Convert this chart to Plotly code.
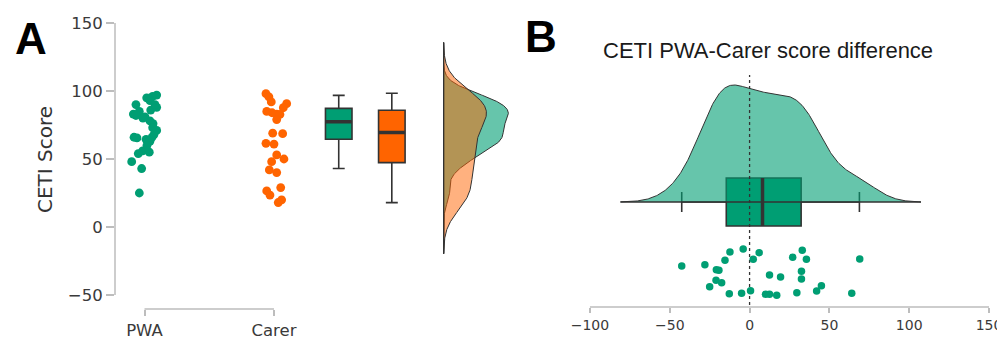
import numpy as np
import plotly.graph_objects as go

# ---------------- data ----------------
groups = ["PWA", "Carer"]
pwa_scores = [97, 96, 95, 93, 90, 88, 86, 85, 83, 81, 78, 76, 73, 71, 66, 65.5, 64.5,
              63, 66, 56, 55, 54, 48, 43, 25, 80, 90, 60, 82, 68]
pwa_jitter = [0.094, 0.063, 0.017, 0.042, -0.066, 0.094, 0.048, -0.040, -0.086, 0.004,
              0.042, 0.066, 0.063, 0.094, -0.081, -0.058, 0.012, 0.042, 0.058, -0.014,
              0.037, -0.048, -0.099, -0.022, -0.040, -0.012, 0.081, 0.019, -0.066, 0.073]
carer_scores = [98, 95.6, 92, 90.7, 87.7, 85, 83, 84, 82.8, 79, 69, 68.6, 61.5, 61, 53,
                50, 48, 42, 40, 29, 26.5, 23.5, 20, 18]
carer_jitter = [-0.062, -0.039, -0.021, 0.098, 0.072, -0.056, 0.021, -0.015, 0.046, 0.021,
                -0.010, 0.067, -0.062, 0.0, 0.021, 0.077, -0.018, -0.036, 0.021, 0.052,
                -0.056, -0.031, 0.059, 0.033]

box_q1 = [64.5, 47.3]
box_median = [77.4, 69.4]
box_q3 = [87.2, 85.8]
box_lower = [43.0, 17.9]
box_upper = [96.8, 98.3]

diff_scores = [-42.5, -28, -12.3, -4, 6, 2.3, -15.4, -20.8, -19.2, -21, -17.5, -25, -12.7,
               -5, 0.6, 10, 12.5, 17, 12.5, 19.4, 27, 33, 35.6, 32.5, 32.5, 29.6, 42, 45,
               64, 69]
diff_jitter = [6, 7.3, 20, 23, 19.3, 12.7, 11.7, 2.3, 1.7, -8.3, -10.7, -14.7, -21.7,
               -21.3, -18.7, -22.3, -22.3, -23.3, -3, -5, 14.7, 21.7, 12.7, 0.7, -7,
               -20.7, -19, -13.7, -21.3, 13]
diff_q1, diff_median, diff_q3 = -14.6, 8.1, 32.3
diff_lower, diff_upper = -42.5, 68.8

y_ticks_a = [-50, 0, 50, 100, 150]
x_ticks_b = [-100, -50, 0, 50, 100, 150]

# ---------------- styles ----------------
GREEN = "#009E73"
ORANGE = "#FF6400"
GREEN_FILL = "rgba(0,158,115,0.6)"
ORANGE_FILL = "rgba(255,100,0,0.5)"
DARK = "#333333"
AXIS = "#BDBDBD"
TICKFONT = dict(family="DejaVu Sans", size=16.5, color="#3a3a3a")

# page body has an 8px margin: figure drawn at (8, 8) in the window
OFF = 8
W, H = 1005 - OFF, 340 - OFF


def px(xr):   # window x pixel -> paper x
    return (xr - OFF) / W


def py(yr):   # window y pixel -> paper y
    return (H - (yr - OFF)) / H


def kde(values, grid, bw):
    v = np.asarray(values, float)[:, None]
    z = (grid[None, :] - v) / bw
    return np.exp(-0.5 * z ** 2).sum(0) / (len(v) * bw * np.sqrt(2 * np.pi))


def nrd0(values):
    v = np.asarray(values, float)
    iqr = np.subtract(*np.percentile(v, [75, 25]))
    return 0.9 * min(v.std(ddof=1), iqr / 1.34) * len(v) ** -0.2


fig = go.Figure()

# ---------------- panel A ----------------
pos = {"PWA": 1.0, "Carer": 2.0}
box_pos = [2.50, 2.91]
dens_base = 3.31

for name, sc, jit, col in [("PWA", pwa_scores, pwa_jitter, GREEN),
                           ("Carer", carer_scores, carer_jitter, ORANGE)]:
    fig.add_trace(go.Scatter(x=[pos[name] + j for j in jit], y=sc, mode="markers",
                             marker=dict(color=col, size=8.8), xaxis="x", yaxis="y",
                             showlegend=False, hoverinfo="skip"))

for i, col in enumerate([GREEN, ORANGE]):
    fig.add_trace(go.Box(x=[box_pos[i]], q1=[box_q1[i]], median=[box_median[i]],
                         q3=[box_q3[i]], lowerfence=[box_lower[i]], upperfence=[box_upper[i]],
                         width=0.205, whiskerwidth=0.45, fillcolor=col,
                         line=dict(color=DARK, width=1.6), boxpoints=False,
                         xaxis="x", yaxis="y", showlegend=False, hoverinfo="skip"))
    fig.add_trace(go.Scatter(x=[box_pos[i] - 0.1, box_pos[i] + 0.1],
                             y=[box_median[i], box_median[i]], mode="lines",
                             line=dict(color=DARK, width=3.5), xaxis="x", yaxis="y",
                             showlegend=False, hoverinfo="skip"))

bw_p, bw_c = nrd0(pwa_scores), nrd0(carer_scores)
bwm = max(bw_p, bw_c)
allv = pwa_scores + carer_scores
grid_a = np.linspace(min(allv) - 3 * bwm, max(allv) + 3 * bwm, 400)
d_p = kde(pwa_scores, grid_a, bw_p)
d_c = kde(carer_scores, grid_a, bw_c)
scale_a = 0.50 / max(d_p.max(), d_c.max())
for d, fillc in [(d_p, GREEN_FILL), (d_c, ORANGE_FILL)]:
    xs = np.concatenate([dens_base + scale_a * d, [dens_base, dens_base]])
    ys = np.concatenate([grid_a, [grid_a[-1], grid_a[0]]])
    fig.add_trace(go.Scatter(x=xs, y=ys, fill="toself", fillcolor=fillc, mode="lines",
                             line=dict(color=DARK, width=1), xaxis="x", yaxis="y",
                             showlegend=False, hoverinfo="skip"))
fig.add_trace(go.Scatter(x=[dens_base, dens_base], y=[grid_a[0], grid_a[-1]], mode="lines",
                         line=dict(color=DARK, width=1.2), xaxis="x", yaxis="y",
                         showlegend=False, hoverinfo="skip"))

# ---------------- panel B ----------------
row_base = 138
row_points = 68
bw_d = nrd0(diff_scores)
grid_b = np.linspace(min(diff_scores) - 3 * bw_d, max(diff_scores) + 3 * bw_d, 400)
d_b = kde(diff_scores, grid_b, bw_d)
scale_b = 117 / d_b.max()
fig.add_trace(go.Scatter(x=np.concatenate([grid_b, [grid_b[-1], grid_b[0]]]),
                         y=np.concatenate([row_base + scale_b * d_b, [row_base, row_base]]),
                         fill="toself", fillcolor=GREEN_FILL, mode="lines",
                         line=dict(color=DARK, width=1), xaxis="x2", yaxis="y2",
                         showlegend=False, hoverinfo="skip"))
fig.add_trace(go.Scatter(x=[grid_b[0], grid_b[-1]], y=[row_base, row_base], mode="lines",
                         line=dict(color=DARK, width=1.2), xaxis="x2", yaxis="y2",
                         showlegend=False, hoverinfo="skip"))
fig.add_trace(go.Box(y=[row_base], q1=[diff_q1], median=[diff_median], q3=[diff_q3],
                     lowerfence=[diff_lower], upperfence=[diff_upper], orientation="h",
                     width=48, whiskerwidth=0.42, fillcolor=GREEN,
                     line=dict(color=DARK, width=1.6), boxpoints=False,
                     xaxis="x2", yaxis="y2", showlegend=False, hoverinfo="skip"))
fig.add_trace(go.Scatter(x=[diff_median, diff_median], y=[row_base - 24, row_base + 24],
                         mode="lines", line=dict(color=DARK, width=3.5),
                         xaxis="x2", yaxis="y2", showlegend=False, hoverinfo="skip"))
fig.add_trace(go.Scatter(x=[0, 0], y=[35, 265], mode="lines",
                         line=dict(color=DARK, width=1.3, dash="3px,3px"),
                         xaxis="x2", yaxis="y2", showlegend=False, hoverinfo="skip"))
fig.add_trace(go.Scatter(x=diff_scores, y=[row_points + j for j in diff_jitter],
                         mode="markers", marker=dict(color=GREEN, size=7.5),
                         xaxis="x2", yaxis="y2", showlegend=False, hoverinfo="skip"))

# ---------------- axes & layout ----------------
xa_pos = py(309)
xb_pos = py(307)
ya_per_px = 200 / 272            # 150 at window y=23, -50 at y=295
ya_top = 150 + (23 - OFF) * ya_per_px
ya_bot = -50 - (340 - 295) * ya_per_px
fig.update_layout(
    width=W, height=H, margin=dict(l=0, r=0, t=0, b=0),
    paper_bgcolor="white", plot_bgcolor="rgba(0,0,0,0)",
    xaxis=dict(domain=[px(115), px(522.6)], range=[0.7722, 3.92], anchor="free",
               position=xa_pos, tickvals=[1, 2], ticktext=groups, showgrid=False,
               zeroline=False, showline=False, ticks="outside", ticklen=6, tickwidth=1.5,
               tickcolor=AXIS, tickfont=TICKFONT),
    yaxis=dict(domain=[0, 1], range=[ya_bot, ya_top], anchor="x", tickvals=y_ticks_a,
               showgrid=False, zeroline=False, showline=False, ticks="outside",
               ticklen=8, tickwidth=1.5, tickcolor=AXIS, tickfont=TICKFONT),
    xaxis2=dict(domain=[px(562.8), 1.0], range=[-117.0, 160.0], anchor="free",
                position=xb_pos, tickvals=x_ticks_b, showgrid=False, zeroline=False,
                showline=False, ticks="outside", ticklen=5, tickwidth=1.5, tickcolor=AXIS,
                tickfont=dict(family="DejaVu Sans", size=14, color="#3a3a3a")),
    yaxis2=dict(domain=[0, 1], range=[0, 340 - OFF], anchor="x2", visible=False),
)
fig.add_shape(type="line", xref="paper", yref="y", x0=px(115), x1=px(115),
              y0=min(y_ticks_a), y1=max(y_ticks_a), line=dict(color=AXIS, width=1.5))
fig.add_shape(type="line", xref="x", yref="paper", x0=pos["PWA"], x1=pos["Carer"],
              y0=xa_pos, y1=xa_pos, line=dict(color=AXIS, width=1.5))
fig.add_shape(type="line", xref="x2", yref="paper", x0=min(x_ticks_b), x1=max(x_ticks_b),
              y0=xb_pos, y1=xb_pos, line=dict(color=AXIS, width=1.5))

fig.add_annotation(text="<b>A</b>", xref="paper", yref="paper", x=px(13), y=py(38),
                   xanchor="left", yanchor="middle", showarrow=False,
                   font=dict(family="Liberation Sans", size=44, color="black"))
fig.add_annotation(text="<b>B</b>", xref="paper", yref="paper", x=px(523), y=py(37),
                   xanchor="left", yanchor="middle", showarrow=False,
                   font=dict(family="Liberation Sans", size=44, color="black"))
fig.add_annotation(text="CETI PWA-Carer score difference", xref="paper", yref="paper",
                   x=px(768), y=py(50), xanchor="center", yanchor="middle",
                   showarrow=False, font=dict(family="Liberation Sans", size=22, color="#1a1a1a"))
fig.add_annotation(text="CETI Score", xref="paper", yref="paper", x=px(45), y=py(160),
                   xanchor="center", yanchor="middle", textangle=-90, showarrow=False,
                   font=dict(family="DejaVu Sans", size=20, color="#333333"))

fig.write_html("out.html")
